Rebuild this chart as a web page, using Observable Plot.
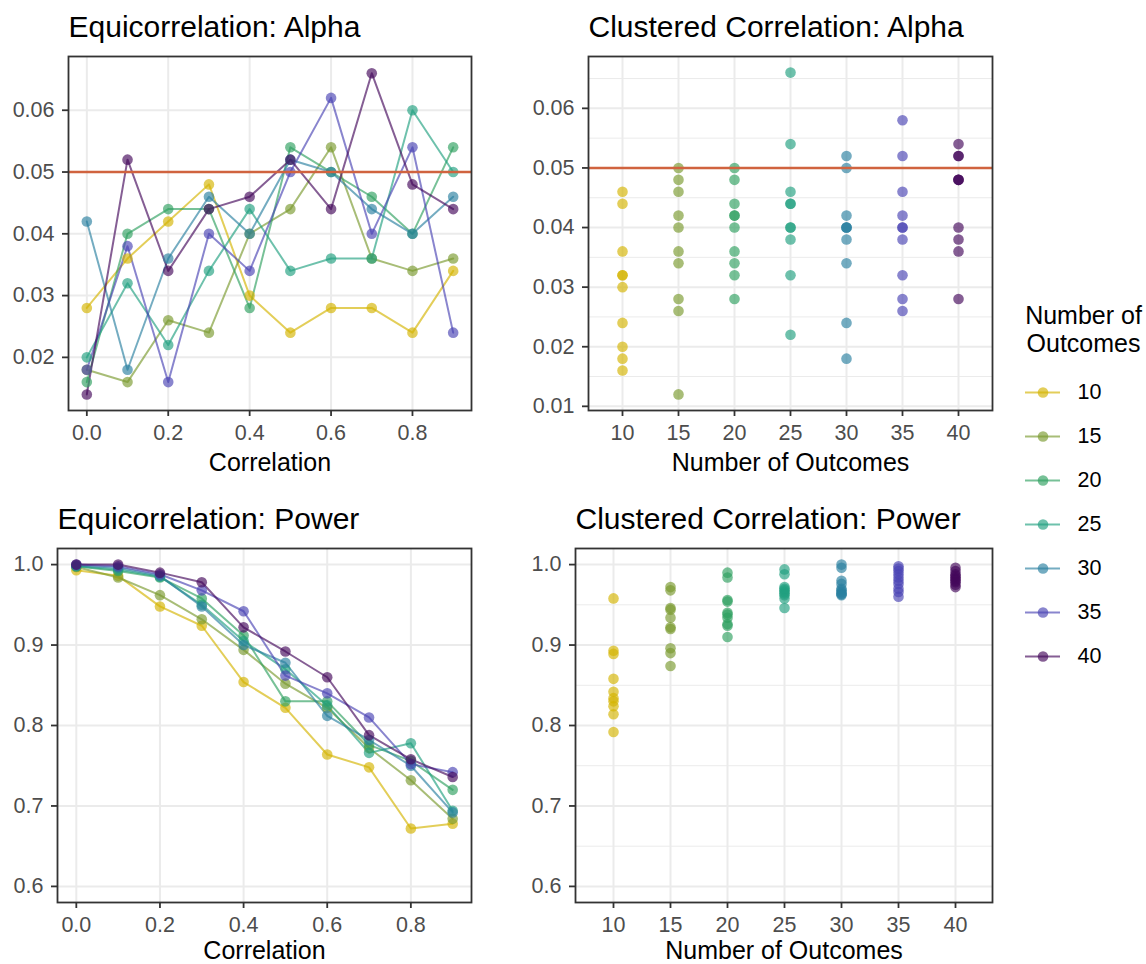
<!DOCTYPE html>
<html><head><meta charset="utf-8">
<script src="https://cdn.jsdelivr.net/npm/d3@7"></script>
<script src="https://cdn.jsdelivr.net/npm/@observablehq/plot@0.6"></script>
<style>
body{margin:0;background:#fff;}
#root{position:relative;width:1146px;height:964px;overflow:hidden;background:#fff;}
#root > svg, #root > figure{position:absolute;margin:0;}
</style></head><body><div id="root"></div>
<script>
// ---------- data ----------
const outcomes = [10, 15, 20, 25, 30, 35, 40];
const outcomeColors = ["#D4B400", "#7A9A2E", "#2EA060", "#20A080", "#2A80A0", "#4A44B4", "#44075A"];
const correlations = [0, 0.1, 0.2, 0.3, 0.4, 0.5, 0.6, 0.7, 0.8, 0.9];
const correlationTicks = [0, 0.2, 0.4, 0.6, 0.8];

// Equicorrelation alpha: one row per number of outcomes, one value per correlation
const equiAlpha = [
  [0.028, 0.036, 0.042, 0.048, 0.030, 0.024, 0.028, 0.028, 0.024, 0.034],
  [0.018, 0.016, 0.026, 0.024, 0.040, 0.044, 0.054, 0.036, 0.034, 0.036],
  [0.016, 0.040, 0.044, 0.044, 0.028, 0.054, 0.050, 0.046, 0.040, 0.054],
  [0.020, 0.032, 0.022, 0.034, 0.044, 0.034, 0.036, 0.036, 0.060, 0.050],
  [0.042, 0.018, 0.036, 0.046, 0.040, 0.052, 0.050, 0.044, 0.040, 0.046],
  [0.018, 0.038, 0.016, 0.040, 0.034, 0.050, 0.062, 0.040, 0.054, 0.024],
  [0.014, 0.052, 0.034, 0.044, 0.046, 0.052, 0.044, 0.066, 0.048, 0.044]
];
// Clustered correlation alpha: replicate values per number of outcomes
const clusteredAlpha = [
  [0.046, 0.044, 0.036, 0.032, 0.032, 0.030, 0.024, 0.020, 0.018, 0.016],
  [0.050, 0.048, 0.046, 0.042, 0.040, 0.036, 0.034, 0.028, 0.026, 0.012],
  [0.050, 0.048, 0.044, 0.042, 0.042, 0.040, 0.036, 0.034, 0.032, 0.028],
  [0.066, 0.054, 0.046, 0.044, 0.044, 0.040, 0.040, 0.038, 0.032, 0.022],
  [0.052, 0.050, 0.042, 0.040, 0.040, 0.040, 0.038, 0.034, 0.024, 0.018],
  [0.058, 0.052, 0.046, 0.042, 0.040, 0.040, 0.038, 0.032, 0.028, 0.026],
  [0.054, 0.052, 0.052, 0.048, 0.048, 0.048, 0.040, 0.038, 0.036, 0.028]
];
// Equicorrelation power
const equiPower = [
  [0.993, 0.986, 0.948, 0.924, 0.854, 0.822, 0.764, 0.748, 0.672, 0.678],
  [0.997, 0.984, 0.962, 0.932, 0.894, 0.852, 0.822, 0.772, 0.732, 0.684],
  [0.998, 0.992, 0.984, 0.958, 0.912, 0.830, 0.830, 0.776, 0.756, 0.720],
  [0.998, 0.994, 0.985, 0.950, 0.905, 0.870, 0.825, 0.766, 0.778, 0.694],
  [0.999, 0.996, 0.986, 0.948, 0.900, 0.878, 0.812, 0.782, 0.750, 0.692],
  [1.000, 0.998, 0.988, 0.968, 0.942, 0.862, 0.840, 0.810, 0.752, 0.742],
  [1.000, 1.000, 0.990, 0.978, 0.922, 0.892, 0.860, 0.788, 0.758, 0.736]
];
// Clustered correlation power
const clusteredPower = [
  [0.958, 0.893, 0.889, 0.858, 0.842, 0.834, 0.830, 0.824, 0.814, 0.792],
  [0.972, 0.968, 0.946, 0.944, 0.934, 0.922, 0.920, 0.896, 0.890, 0.874],
  [0.990, 0.984, 0.956, 0.954, 0.940, 0.938, 0.934, 0.926, 0.924, 0.910],
  [0.994, 0.988, 0.972, 0.970, 0.968, 0.966, 0.964, 0.962, 0.958, 0.946],
  [1.000, 0.996, 0.980, 0.976, 0.970, 0.968, 0.966, 0.964, 0.963, 0.962],
  [0.998, 0.995, 0.992, 0.988, 0.984, 0.980, 0.976, 0.970, 0.966, 0.960],
  [0.996, 0.992, 0.988, 0.986, 0.984, 0.982, 0.980, 0.978, 0.975, 0.972]
];
const alphaTicks = [0.02, 0.03, 0.04, 0.05, 0.06];
const alphaTicksClustered = [0.01, 0.02, 0.03, 0.04, 0.05, 0.06];
const alphaMinor = [0.015, 0.025, 0.035, 0.045, 0.055, 0.065];
const powerTicks = [0.6, 0.7, 0.8, 0.9, 1.0];
const powerMinor = [0.65, 0.75, 0.85, 0.95];
const nominalAlpha = 0.05;

// ---------- tables ----------
const equiTable = (rows) => outcomes.flatMap((N, i) => correlations.map((x, j) => ({N, x, y: rows[i][j]})));
const clusteredTable = (rows) => outcomes.flatMap((N, i) => rows[i].map(y => ({N, x: N, y})));

const FONT = '"Liberation Sans", Arial, Helvetica, sans-serif';
const root = document.getElementById("root");

function makePanel(c) {
  const gridStyle = {stroke: "#EBEBEB", strokeOpacity: 1};
  const marks = [];
  if (c.yMinor) marks.push(Plot.gridY(c.yMinor, {...gridStyle, strokeWidth: 1}));
  marks.push(Plot.gridY(c.yTicks, {...gridStyle, strokeWidth: 2}));
  marks.push(c.discrete ? Plot.gridX({...gridStyle, strokeWidth: 2}) : Plot.gridX(c.xTicks, {...gridStyle, strokeWidth: 2}));
  if (c.lines) marks.push(Plot.line(c.data, {x: "x", y: "y", z: "N", stroke: "N", strokeWidth: 2, strokeOpacity: 0.65}));
  marks.push(Plot.dot(c.data, {x: "x", y: "y", fill: "N", fillOpacity: 0.65, r: 5.3}));
  if (c.ref != null) marks.push(Plot.ruleY([c.ref], {stroke: "#D0633F", strokeWidth: 2.5}));
  marks.push(Plot.frame({stroke: "#333333", strokeWidth: 1.8}));
  const axisStyle = {tickSize: 6, tickPadding: 8, fontSize: 21.5, color: "#4D4D4D", stroke: "#333333", strokeWidth: 1.8, label: null};
  marks.push(Plot.axisY(c.yTicks, {...axisStyle, tickFormat: c.yFormat}));
  marks.push(c.discrete ? Plot.axisX({...axisStyle}) : Plot.axisX(c.xTicks, {...axisStyle, tickFormat: d3.format(".1f")}));
  marks.push(Plot.text([c.xLabel], {frameAnchor: "bottom", lineAnchor: "middle", dy: c.xLabelDy, fontSize: 25, fill: "#000"}));
  marks.push(Plot.text([c.title], {frameAnchor: "top-left", lineAnchor: "middle", textAnchor: "start", dy: -29, fontSize: 30, fill: "#000"}));
  const svg = Plot.plot({
    width: c.width, height: c.height,
    marginLeft: c.ml, marginRight: c.mr, marginTop: c.mt, marginBottom: c.mb,
    style: {fontFamily: FONT, background: "transparent", overflow: "visible"},
    x: c.discrete ? {type: "point", domain: outcomes, padding: 0.6} : {domain: [-0.045, 0.945]},
    y: {domain: c.yDomain},
    color: {type: "ordinal", domain: outcomes, range: outcomeColors},
    marks
  });
  svg.style.left = c.left + "px";
  svg.style.top = c.top + "px";
  root.appendChild(svg);
}

makePanel({
  title: "Equicorrelation: Alpha", xLabel: "Correlation", data: equiTable(equiAlpha), lines: true,
  xTicks: correlationTicks, yTicks: alphaTicks, yFormat: d3.format(".2f"), yDomain: [0.0114, 0.0687], ref: nominalAlpha,
  left: 0, top: 0, width: 520, height: 490, ml: 68, mr: 49, mt: 56, mb: 80, xLabelDy: 52
});
makePanel({
  title: "Clustered Correlation: Alpha", xLabel: "Number of Outcomes", data: clusteredTable(clusteredAlpha), discrete: true,
  yTicks: alphaTicksClustered, yMinor: alphaMinor, yFormat: d3.format(".2f"), yDomain: [0.0093, 0.0687], ref: nominalAlpha,
  left: 520, top: 0, width: 480, height: 490, ml: 68, mr: 8, mt: 56, mb: 80, xLabelDy: 52
});
makePanel({
  title: "Equicorrelation: Power", xLabel: "Correlation", data: equiTable(equiPower), lines: true,
  xTicks: correlationTicks, yTicks: powerTicks, yFormat: d3.format(".1f"), yDomain: [0.58, 1.02],
  left: 0, top: 490, width: 520, height: 474, ml: 57, mr: 49, mt: 58, mb: 62, xLabelDy: 48
});
makePanel({
  title: "Clustered Correlation: Power", xLabel: "Number of Outcomes", data: clusteredTable(clusteredPower), discrete: true,
  yTicks: powerTicks, yMinor: powerMinor, yFormat: d3.format(".1f"), yDomain: [0.58, 1.02],
  left: 520, top: 490, width: 480, height: 474, ml: 55, mr: 8, mt: 58, mb: 62, xLabelDy: 48
});

// ---------- legend ----------
const legend = Plot.plot({
  width: 126, height: 420,
  marginLeft: 5, marginRight: 86, marginTop: 0, marginBottom: 0,
  style: {fontFamily: FONT, background: "transparent", overflow: "visible"},
  x: {axis: null, domain: [0, 1]},
  y: {type: "point", domain: outcomes, range: [100, 367], padding: 0, axis: null},
  color: {type: "ordinal", domain: outcomes, range: outcomeColors},
  marks: [
    Plot.ruleY(outcomes, {y: d => d, stroke: d => d, strokeWidth: 2, strokeOpacity: 0.65}),
    Plot.dot(outcomes, {y: d => d, fill: d => d, fillOpacity: 0.65, r: 5.3}),
    Plot.text(outcomes, {y: d => d, text: d => String(d), frameAnchor: "right", dx: 17, textAnchor: "start", fontSize: 21.5, fill: "#000"}),
    Plot.text(["Number of\nOutcomes"], {frameAnchor: "top", dx: 40.5, dy: 14, lineAnchor: "top", lineHeight: 1.12, fontSize: 25, fill: "#000"})
  ]
});
legend.style.left = "1020px";
legend.style.top = "290px";
root.appendChild(legend);
</script></body></html>
